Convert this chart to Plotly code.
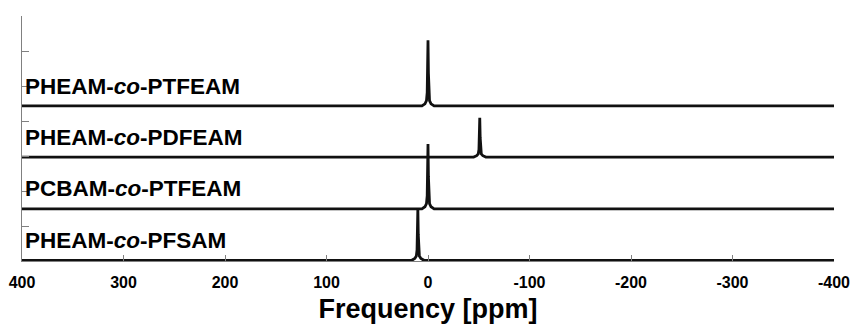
import plotly.graph_objects as go

# Spectra (top to bottom), chemical shift in ppm
names = ["PHEAM-<i>co</i>-PTFEAM", "PHEAM-<i>co</i>-PDFEAM",
         "PCBAM-<i>co</i>-PTFEAM", "PHEAM-<i>co</i>-PFSAM"]
offsets = [4.43, 2.97, 1.49, 0.02]

x1 = [400, 6, 3, 1.5, 0.8, 0.4, 0, -0.4, -0.8, -1.5, -3, -6, -400]
y1 = [0, 0, 0.06, 0.15, 0.38, 0.94, 1.88, 0.94, 0.38, 0.15, 0.06, 0, 0]

x2 = [400, -45, -48, -49.5, -50.2, -50.6, -51, -51.4, -51.8, -52.5, -54, -57, -400]
y2 = [0, 0, 0.04, 0.09, 0.22, 0.56, 1.12, 0.56, 0.22, 0.09, 0.04, 0, 0]

x3 = [400, 6, 3, 1.5, 0.8, 0.4, 0, -0.4, -0.8, -1.5, -3, -6, -400]
y3 = [0, 0, 0.06, 0.15, 0.37, 0.92, 1.85, 0.92, 0.37, 0.15, 0.06, 0, 0]

x4 = [400, 16, 13, 11.5, 10.8, 10.4, 10, 9.6, 9.2, 8.5, 7, 4, -400]
y4 = [0, 0, 0.05, 0.12, 0.30, 0.74, 1.48, 0.74, 0.30, 0.12, 0.05, 0, 0]

xs = [x1, x2, x3, x4]
ys = [y1, y2, y3, y4]

x_ticks = [400, 300, 200, 100, 0, -100, -200, -300, -400]
x_ticktext = ["400", "300", "200", "100", "0", "-100", "-200", "-300", "-400"]

fig = go.Figure()
for xv, yv, off in zip(xs, ys, offsets):
    fig.add_trace(go.Scatter(
        x=xv, y=[v + off for v in yv], mode="lines",
        line=dict(color="#111111", width=2.8), showlegend=False,
        hoverinfo="skip"))

for name, off in zip(names, offsets):
    fig.add_annotation(
        x=400, y=off + 0.57, xref="x", yref="y", text="<b>" + name + "</b>",
        showarrow=False, xanchor="left", yanchor="middle", xshift=1,
        font=dict(family="Liberation Sans, Arial, sans-serif", size=22.5, color="black"))

fig.update_layout(
    width=850, height=324,
    margin=dict(l=22, r=16, t=16, b=63, autoexpand=False),
    paper_bgcolor="white", plot_bgcolor="white",
    font=dict(family="Liberation Sans, Arial, sans-serif", color="black"),
    xaxis=dict(
        range=[400, -400], autorange=False, automargin=False,
        tickmode="array", tickvals=x_ticks, ticktext=x_ticktext,
        ticks="inside", ticklen=6, tickwidth=1, tickcolor="#808080",
        showline=True, linecolor="#808080", linewidth=1,
        showgrid=False, zeroline=False,
        ticklabeloverflow="allow", ticklabelstandoff=7,
        tickfont=dict(size=16, weight="bold", color="black"),
        title=dict(text="Frequency [ppm]", standoff=10,
                   font=dict(size=27, weight="bold", color="black")),
    ),
    yaxis=dict(
        range=[0, 7], autorange=False, automargin=False, dtick=1, tick0=0,
        ticks="inside", ticklen=7, tickwidth=1, tickcolor="#808080",
        showline=True, linecolor="#808080", linewidth=1,
        showgrid=False, zeroline=False, showticklabels=False,
    ),
)

fig.write_html("out.html")
